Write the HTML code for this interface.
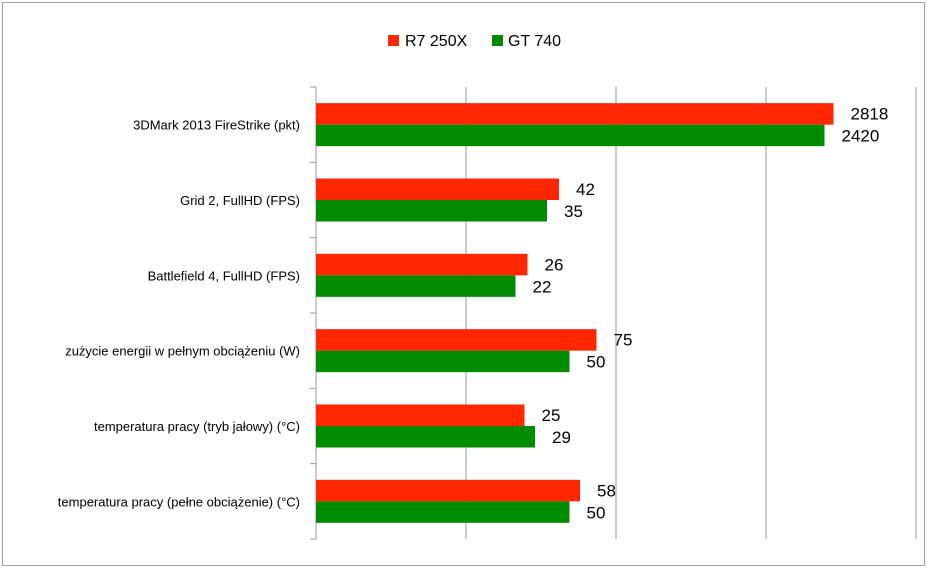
<!DOCTYPE html>
<html><head><meta charset="utf-8"><style>
body{margin:0;background:#fff;font-family:"Liberation Sans",sans-serif}
svg text{font-family:"Liberation Sans",sans-serif}
</style></head><body>
<svg id="chart" width="945" height="568" xmlns="http://www.w3.org/2000/svg">
<rect x="2.5" y="2.5" width="922" height="563" fill="#fff" stroke="#a0a0a0"/>
<g id="legend">
<rect x="388" y="35" width="11" height="11" fill="#ff2600"/>
<text x="405" y="46" font-size="16" fill="#000">R7 250X</text>
<rect x="492" y="35" width="11" height="11" fill="#008c00"/>
<text x="508" y="46" font-size="16" fill="#000">GT 740</text>
</g>
<g id="grid"></g><g id="bars"></g><g id="labels"></g>
</svg>
<script>
const categories=["3DMark 2013 FireStrike (pkt)","Grid 2, FullHD (FPS)","Battlefield 4, FullHD (FPS)","zużycie energii w pełnym obciążeniu (W)","temperatura pracy (tryb jałowy) (°C)","temperatura pracy (pełne obciążenie) (°C)"];
const r7Values=[2818,42,26,75,25,58];
const gtValues=[2420,35,22,50,29,50];
// normalized plotted lengths (chart axis units 0-4, unlabeled)
const r7Plot=[3.45,1.62,1.41,1.87,1.39,1.76];
const gtPlot=[3.39,1.54,1.33,1.69,1.46,1.69];
const gridTicks=[0,1,2,3,4];
const NS="http://www.w3.org/2000/svg";
const x0=316,x1=916,yTop=87,yBot=539,xMax=4;
const xs=v=>x0+v/xMax*(x1-x0);
const bandH=(yBot-yTop)/categories.length;
const yb=i=>yTop+i*bandH;
function mk(tag,attrs,parent){const e=document.createElementNS(NS,tag);for(const k in attrs)e.setAttribute(k,attrs[k]);document.getElementById(parent).appendChild(e);return e;}
gridTicks.forEach(t=>{if(t===0)return;
const l=mk('line',{x1:xs(t),x2:xs(t),y1:yTop,y2:yBot,stroke:'#9a9a9a','stroke-width':1},'grid');

});
const ax=mk('line',{x1:x0,x2:x0,y1:yTop,y2:yBot,stroke:'#9a9a9a','stroke-width':1},'grid');


for(let i=0;i<=categories.length;i++){const t=mk('line',{x1:x0-6,x2:x0,y1:yb(i),y2:yb(i),stroke:'#9a9a9a'},'grid');

}
categories.forEach((c,i)=>{const cy=yb(i)+bandH/2;const h=21.5;
const r=mk('rect',{x:x0,y:cy-h,width:xs(r7Plot[i])-x0,height:h,fill:'#ff2600'},'bars');


const g=mk('rect',{x:x0,y:cy,width:xs(gtPlot[i])-x0,height:h,fill:'#008c00'},'bars');


const lt=mk('text',{x:300,y:cy+5,'text-anchor':'end','font-size':13,fill:'#000'},'labels');lt.textContent=c;


const v1=mk('text',{x:xs(r7Plot[i])+17,y:cy-5,'font-size':17,fill:'#000'},'labels');v1.textContent=r7Values[i];


const v2=mk('text',{x:xs(gtPlot[i])+17,y:cy+17,'font-size':17,fill:'#000'},'labels');v2.textContent=gtValues[i];


});
</script>
</body></html>
